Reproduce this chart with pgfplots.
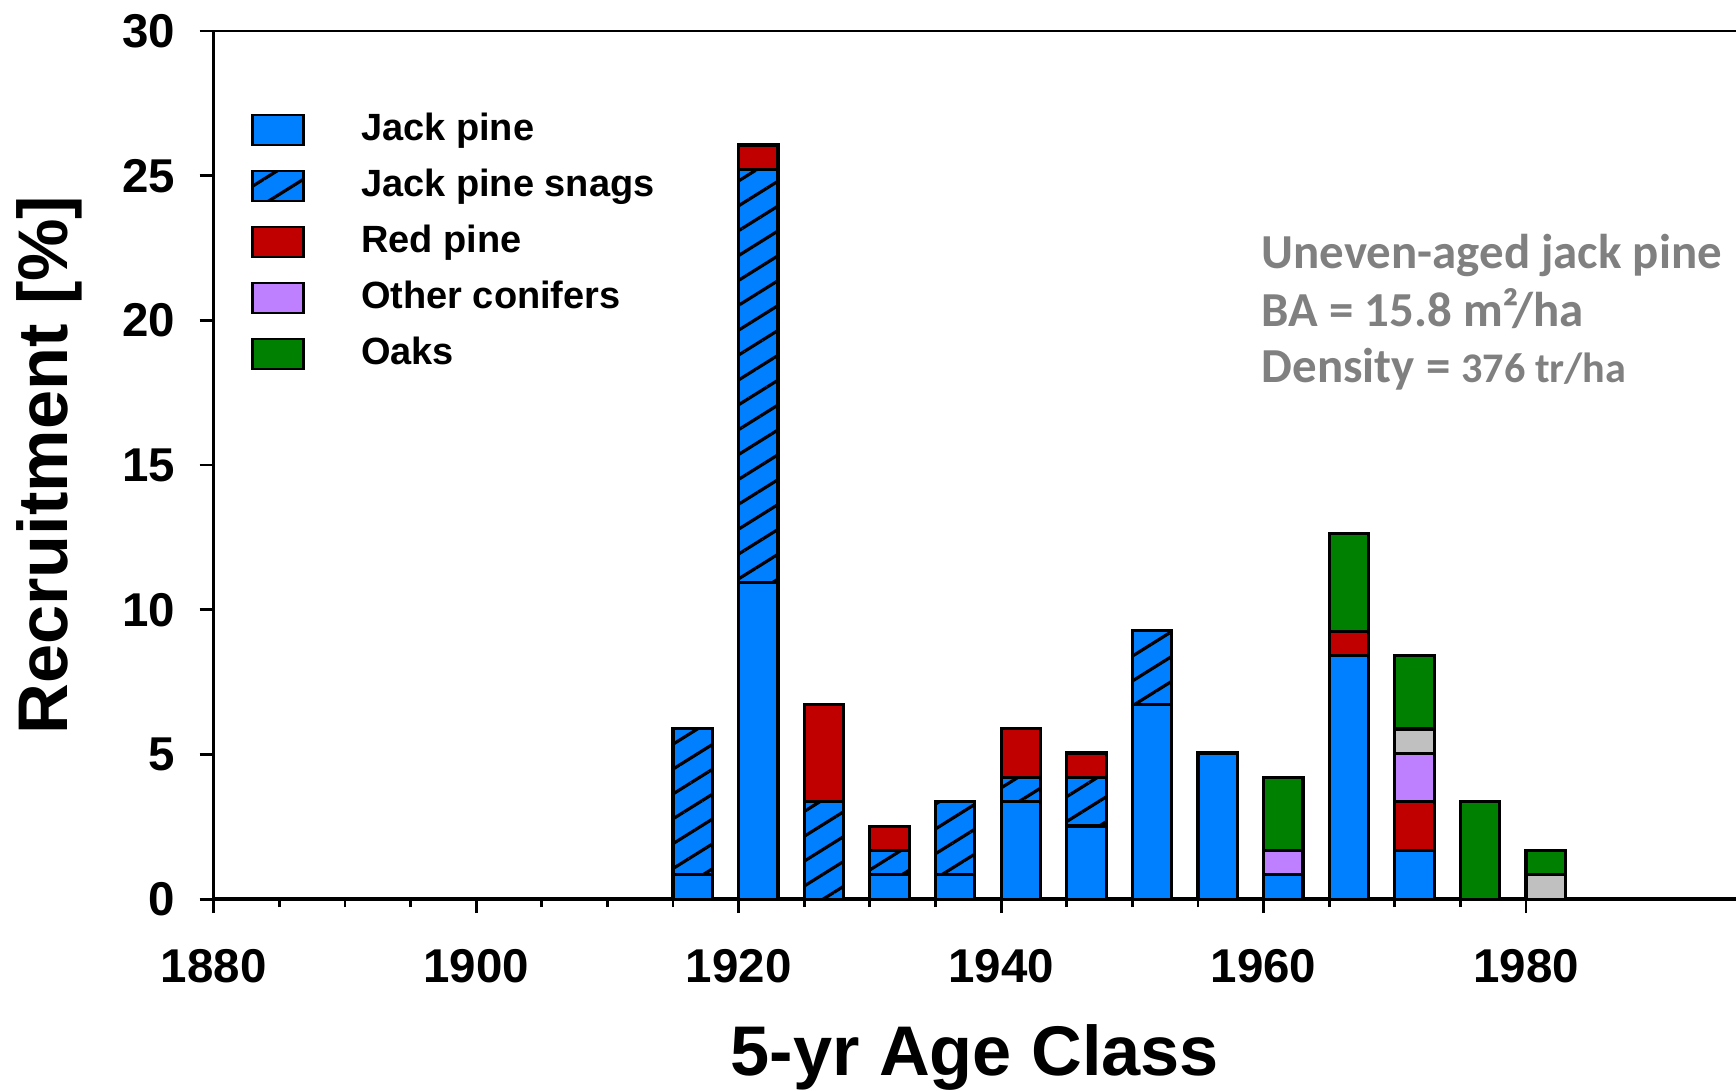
\documentclass[border=0pt]{standalone}
\usepackage{fontspec}
\setmainfont{Liberation Sans}
\newfontfamily\calfont{Carlito}
\usepackage{pgfplots}
\pgfplotsset{compat=1.18}
\usepackage{pgfplotstable}
\usetikzlibrary{patterns.meta,calc}

\definecolor{jpblue}{RGB}{0,128,255}
\definecolor{rpred}{RGB}{192,0,0}
\definecolor{ocpurple}{RGB}{191,128,255}
\definecolor{oakgreen}{RGB}{0,128,0}
\definecolor{othgray}{RGB}{192,192,192}
\definecolor{notegray}{RGB}{128,128,128}

% recruitment [%] per 5-yr age class
\pgfplotstableread{
year jp    snag  red   oth   gry   oak
1915 0.84  5.05  0     0     0     0
1920 10.95 14.27 0.84  0     0     0
1925 0     3.37  3.37  0     0     0
1930 0.84  0.84  0.84  0     0     0
1935 0.84  2.53  0     0     0     0
1940 3.37  0.84  1.68  0     0     0
1945 2.53  1.68  0.84  0     0     0
1950 6.74  2.53  0     0     0     0
1955 5.05  0     0     0     0     0
1960 0.84  0     0     0.84  0     2.53
1965 8.42  0     0.84  0     0     3.37
1970 1.68  0     1.68  1.68  0.84  2.53
1975 0     0     0     0     0     3.37
1980 0     0     0     0     0.84  0.84
}\recruit

\begin{document}
\begin{tikzpicture}
\begin{axis}[
  scale only axis,
  width=152.2mm, height=86.8mm,
  xmin=1880, xmax=1996,
  ymin=0, ymax=30,
  ybar stacked, bar width=3, bar shift=1.5,
  axis x line*=bottom, axis y line*=left,
  axis line style={-, line width=0.8pt},
  x axis line style={line width=1.1pt},
  xtick={1880,1900,...,1980},
  minor x tick num=3,
  ytick={0,5,...,30},
  tick align=outside,
  major tick length=1.4mm, minor tick length=0.8mm,
  tick style={line width=0.8pt, black},
  /pgf/number format/assume math mode=true,
  /pgf/number format/1000 sep={},
  ticklabel style={font=\bfseries\fontsize{13.5}{14}\selectfont},
  yticklabel style={xshift=-1.2mm},
  xticklabel style={yshift=-2.4mm},
  xlabel={5-yr Age Class},
  ylabel={Recruitment [\%]},
  label style={font=\bfseries\fontsize{20}{22}\selectfont},
  xlabel style={at={(axis description cs:0.5,-0.1823)}, anchor=center},
  ylabel style={at={(axis description cs:-0.1078,0.5)}, anchor=center},
  every axis plot/.append style={draw=black, line width=0.9pt},
  legend style={at={(0.0173,0.922)}, anchor=north west, draw=none, fill=none,
    font=\bfseries\fontsize{10.8}{12}\selectfont,
    column sep=5.6mm, row sep=0.9mm,
    nodes={inner sep=0pt, text height=3.4mm, text depth=1.3mm}},
  legend cell align=left,
  legend image code/.code={\draw[#1, line width=0.8pt] (0mm,-1.5mm) rectangle (5.1mm,1.5mm);},
]
\addplot[fill=jpblue] table[x=year, y=jp] {\recruit};
\addlegendentry{Jack pine}
\addplot[fill=jpblue, postaction={pattern={Lines[angle=32, distance=6pt, line width=0.9pt]}, pattern color=black}] table[x=year, y=snag] {\recruit};
\addlegendentry{Jack pine snags}
\addplot[fill=rpred] table[x=year, y=red] {\recruit};
\addlegendentry{Red pine}
\addplot[fill=ocpurple] table[x=year, y=oth] {\recruit};
\addlegendentry{Other conifers}
\addplot[fill=othgray, forget plot] table[x=year, y=gry] {\recruit};
\addplot[fill=oakgreen] table[x=year, y=oak] {\recruit};
\addlegendentry{Oaks}

\draw[line width=0.8pt] (rel axis cs:0,1) -- (rel axis cs:1,1);
\node[anchor=base west, text=notegray, font=\calfont\bfseries\fontsize{13.9}{15}\selectfont, inner sep=0pt] at (rel axis cs:0.688,0.726) {Uneven-aged jack pine};
\node[anchor=base west, text=notegray, font=\calfont\bfseries\fontsize{13.9}{15}\selectfont, inner sep=0pt] at (rel axis cs:0.688,0.660) {BA = 15.8 m²/ha};
\node[anchor=base west, text=notegray, font=\calfont\bfseries\fontsize{13.9}{15}\selectfont, inner sep=0pt] at (rel axis cs:0.688,0.5955) {Density = {\fontsize{12}{15}\selectfont 376 tr/ha}};

\coordinate (bl) at (rel axis cs:0,0);
\coordinate (tr) at (rel axis cs:1,1);
\end{axis}
\pgfresetboundingbox
\path[use as bounding box] ($(bl)+(-21.37mm,-19.1mm)$) rectangle ($(tr)+(0,3.1mm)$);
\end{tikzpicture}
\end{document}
